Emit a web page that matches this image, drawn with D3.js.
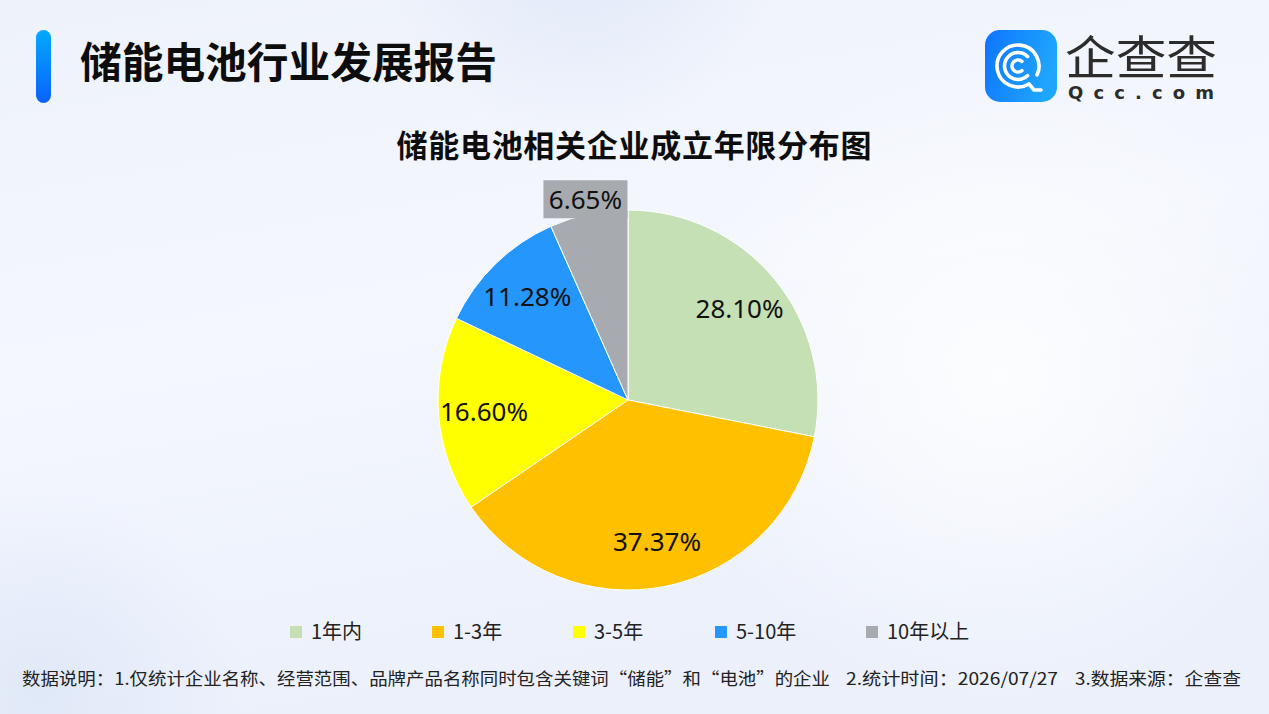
<!DOCTYPE html>
<html>
<head>
<meta charset="utf-8">
<script src="https://cdn.jsdelivr.net/npm/d3@7"></script>
<style>
  html, body { margin: 0; padding: 0; }
  body { width: 1269px; height: 714px; overflow: hidden; }
  svg { display: block; font-family: "Noto Sans CJK SC", "Noto Sans", sans-serif; }
</style>
</head>
<body>
<div id="chart"></div>
<script>
// data
const categories = ["1年内", "1-3年", "3-5年", "5-10年", "10年以上"];
const shares = [28.10, 37.37, 16.60, 11.28, 6.65];
const colors = ["#c5e0b4", "#ffc000", "#ffff00", "#2597fc", "#a7abaf"];

const reportTitle = "储能电池行业发展报告";
const chartTitle = "储能电池相关企业成立年限分布图";
const notes = [
    "数据说明：1.仅统计企业名称、经营范围、品牌产品名称同时包含关键词“储能”和“电池”的企业",
    "2.统计时间：2026/07/27",
    "3.数据来源：企查查"
];

const width = 1269;
const height = 714;

const svg = d3.select("#chart")
    .append("svg")
    .attr("width", width)
    .attr("height", height);

const defs = svg.append("defs");

// background
const bg = defs.append("linearGradient").attr("id", "bg")
    .attr("x1", 0).attr("y1", 0).attr("x2", 0.3).attr("y2", 1);
bg.append("stop").attr("offset", 0).attr("stop-color", "#eef2fa");
bg.append("stop").attr("offset", 0.5).attr("stop-color", "#f4f7fe");
bg.append("stop").attr("offset", 1).attr("stop-color", "#ebf0fb");

const blob = defs.append("radialGradient").attr("id", "blob");
blob.append("stop").attr("offset", 0).attr("stop-color", "#ffffff").attr("stop-opacity", 0.8);
blob.append("stop").attr("offset", 1).attr("stop-color", "#ffffff").attr("stop-opacity", 0);

const blobBlue = defs.append("radialGradient").attr("id", "blobBlue");
blobBlue.append("stop").attr("offset", 0).attr("stop-color", "#dfe8f8").attr("stop-opacity", 0.9);
blobBlue.append("stop").attr("offset", 1).attr("stop-color", "#dfe8f8").attr("stop-opacity", 0);

svg.append("rect").attr("width", width).attr("height", height).attr("fill", "url(#bg)");
svg.append("circle").attr("cx", 1000).attr("cy", 380).attr("r", 330).attr("fill", "url(#blob)");
svg.append("circle").attr("cx", 580).attr("cy", -60).attr("r", 200).attr("fill", "url(#blobBlue)");
svg.append("circle").attr("cx", 40).attr("cy", 690).attr("r", 200).attr("fill", "url(#blobBlue)");

// header bar + title
const bar = defs.append("linearGradient").attr("id", "bar")
    .attr("x1", 0).attr("y1", 0).attr("x2", 0).attr("y2", 1);
bar.append("stop").attr("offset", 0).attr("stop-color", "#05a9fd");
bar.append("stop").attr("offset", 1).attr("stop-color", "#0a62fb");

svg.append("rect")
    .attr("x", 36).attr("y", 30).attr("width", 15).attr("height", 73)
    .attr("rx", 7.5).attr("fill", "url(#bar)");

svg.append("text")
    .attr("x", 80).attr("y", 78)
    .attr("font-size", 42).attr("font-weight", 700).attr("fill", "#0d0d0d")
    .attr("textLength", 417).attr("lengthAdjust", "spacingAndGlyphs")
    .text(reportTitle);

// logo
const logoG = defs.append("linearGradient").attr("id", "logo")
    .attr("x1", 0).attr("y1", 0).attr("x2", 1).attr("y2", 0.3);
logoG.append("stop").attr("offset", 0).attr("stop-color", "#0f74ff");
logoG.append("stop").attr("offset", 1).attr("stop-color", "#1ea6fd");

const logo = svg.append("g").attr("transform", "translate(985,30)");
logo.append("rect").attr("width", 72).attr("height", 72).attr("rx", 15).attr("fill", "url(#logo)");
const icon = logo.append("g").attr("transform", "translate(33,36)")
    .attr("fill", "none").attr("stroke", "#fff").attr("stroke-width", 3.6).attr("stroke-linecap", "round");
const deg = Math.PI / 180;
const ringPath = (r, a0, a1) => {
    const p = d3.path();
    p.arc(0, 0, r, a0 * deg, a1 * deg);
    return p.toString();
};
// angles in canvas convention: 0 = right, clockwise
icon.append("path").attr("d", ringPath(21, 60, 360 + 25));
icon.append("path").attr("d", ringPath(13.5, 45, 315));
icon.append("path").attr("d", ringPath(6, 50, 310));
icon.append("path").attr("d", "M11,18 L16,24 L23,24");

logo.append("text")
    .attr("x", 80).attr("y", 44)
    .attr("font-size", 46).attr("font-weight", 400).attr("fill", "#2c2c2c")
    .attr("textLength", 152).attr("lengthAdjust", "spacingAndGlyphs")
    .text("企查查");
logo.append("text")
    .attr("x", 83).attr("y", 69)
    .attr("font-family", "'DejaVu Sans', sans-serif")
    .attr("font-size", 18).attr("font-weight", 700).attr("fill", "#2c2c2c")
    .attr("textLength", 146).attr("lengthAdjust", "spacing")
    .text("Qcc.com");

// chart title
svg.append("text")
    .attr("x", 634).attr("y", 157)
    .attr("text-anchor", "middle")
    .attr("font-size", 31).attr("font-weight", 700).attr("fill", "#0d0d0d")
    .attr("textLength", 475).attr("lengthAdjust", "spacing")
    .text(chartTitle);

// pie
const cx = 628, cy = 400, radius = 190;
const data = categories.map((c, i) => ({ name: c, value: shares[i], color: colors[i] }));

const pie = d3.pie().sort(null).value(d => d.value);
const arc = d3.arc().innerRadius(0).outerRadius(radius);
const labelArc = d3.arc().innerRadius(radius * 0.76).outerRadius(radius * 0.76);
const outerArc = d3.arc().innerRadius(radius * 1.08).outerRadius(radius * 1.08);

const g = svg.append("g").attr("transform", `translate(${cx},${cy})`);
const arcs = pie(data);

g.selectAll("path.slice")
    .data(arcs)
    .enter()
    .append("path")
    .attr("class", "slice")
    .attr("d", arc)
    .attr("fill", d => d.data.color)
    .attr("stroke", "#ffffff")
    .attr("stroke-width", 1);

const fmt = v => v.toFixed(2) + "%";

arcs.forEach(d => {
    const outside = d.data.value < 8;
    const [lx, ly] = outside ? outerArc.centroid(d) : labelArc.centroid(d);
    const lg = g.append("g").attr("transform", `translate(${lx},${ly})`);
    if (outside) {
        lg.append("rect")
            .attr("x", -42).attr("y", -19).attr("width", 84).attr("height", 38)
            .attr("fill", d.data.color);
    }
    lg.append("text")
        .attr("text-anchor", "middle")
        .attr("dy", "0.36em")
        .attr("font-family", "'Noto Sans', sans-serif")
        .attr("font-size", 26).attr("fill", "#111")
        .text(fmt(d.data.value));
});

// legend
const legendPos = [290, 432, 573, 715, 866];
const legend = svg.append("g");
categories.forEach((c, i) => {
    const item = legend.append("g").attr("transform", `translate(${legendPos[i]},632)`);
    item.append("rect").attr("x", 0).attr("y", -6).attr("width", 12).attr("height", 12).attr("fill", colors[i]);
    item.append("text")
        .attr("x", 21).attr("dy", "0.36em")
        .attr("font-size", 20).attr("fill", "#222")
        .text(c);
});

// footer notes
const noteX = [22, 846, 1075];
const noteW = [808, 212, 166];
notes.forEach((t, i) => {
    svg.append("text")
        .attr("x", noteX[i]).attr("y", 685)
        .attr("font-size", 17).attr("fill", "#222")
        .attr("textLength", noteW[i]).attr("lengthAdjust", "spacingAndGlyphs")
        .text(t);
});
</script>
</body>
</html>
